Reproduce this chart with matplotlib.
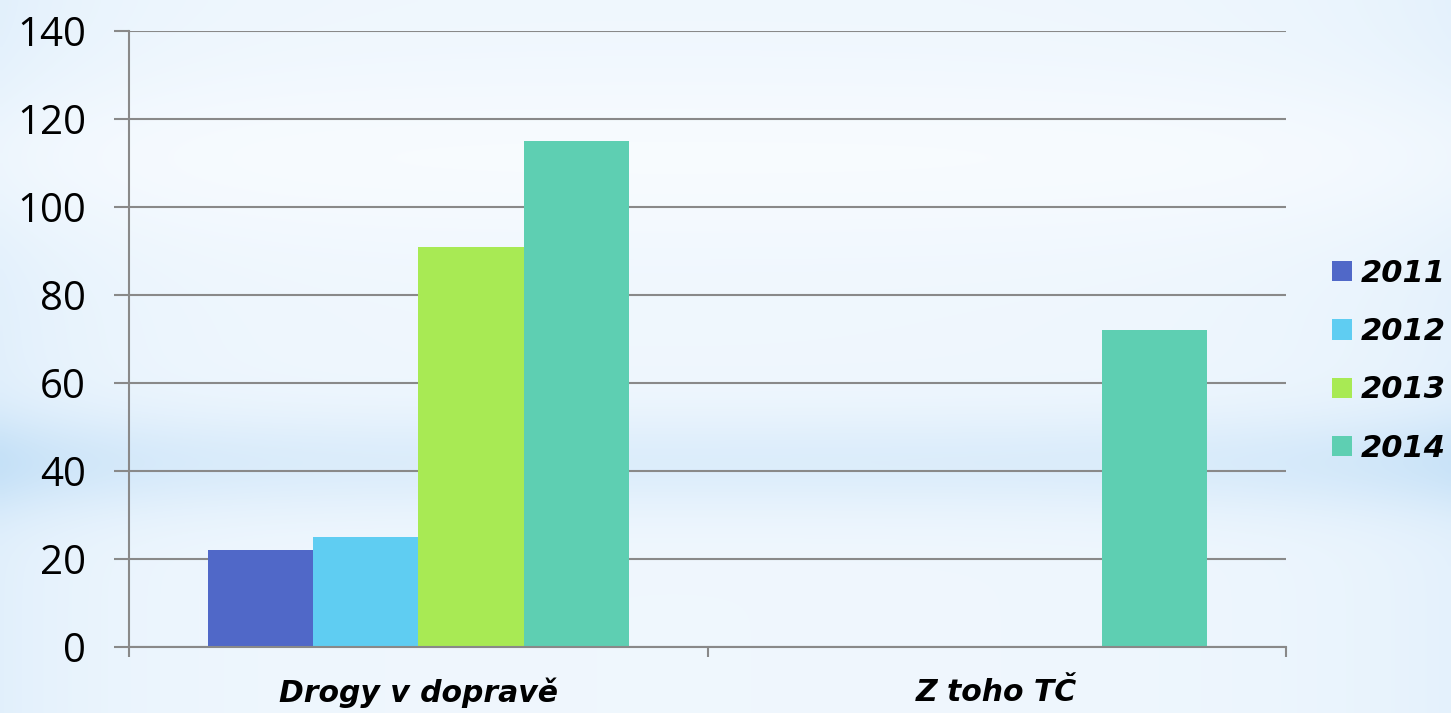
import matplotlib
matplotlib.use('Agg')
import matplotlib.pyplot as plt
import numpy as np

# data
categories = ['Drogy v dopravě', 'Z toho TČ']
years = ['2011', '2012', '2013', '2014']
values = {
    '2011': [22, 0],
    '2012': [25, 0],
    '2013': [91, 0],
    '2014': [115, 72],
}
colors = ['#5068c8', '#5fcdf2', '#a8ea54', '#5ecfb2']

fig = plt.figure(figsize=(14.51, 7.13), dpi=100)

# background gradient
bg = fig.add_axes([0, 0, 1, 1])
h, w = 200, 300
yy = np.linspace(0, 1, h)[:, None]
xx = np.linspace(0, 1, w)[None, :]
# 0 = white, 1 = light blue
band = 0.25 + 0.6 * np.exp(-((yy - 0.65) / 0.07) ** 2) - 0.25 * np.exp(-((yy - 0.22) / 0.12) ** 2)
edge = 0.55 * np.exp(-xx / 0.08) + 0.45 * np.exp(-(1 - xx) / 0.1)
t = np.clip(band * (0.45 + 0.55 * np.clip(edge + 0.3, 0, 1)) + 0.35 * edge, 0, 1)
white = np.array([0.97, 0.985, 1.0])
blue = np.array([0.77, 0.88, 0.97])
img = white[None, None, :] * (1 - t[..., None]) + blue[None, None, :] * t[..., None]
bg.imshow(img, aspect='auto', extent=[0, 1, 0, 1], interpolation='bilinear')
bg.axis('off')

ax = fig.add_axes([0.0889, 0.0926, 0.7974, 0.8639])
ax.patch.set_alpha(0)

x = np.arange(len(categories))
bw = 0.182
for i, yr in enumerate(years):
    ax.bar(x + (i - 1.5) * bw, values[yr], bw, color=colors[i], label=yr, zorder=3)

ax.set_xlim(-0.5, 1.5)
ax.set_ylim(0, 140)
ax.set_yticks(range(0, 141, 20))
ax.set_xticks([-0.5, 0.5, 1.5])
ax.set_xticklabels([])
ax.set_xticks(x, minor=True)
ax.set_xticklabels(categories, minor=True, fontsize=21.5, fontweight='semibold',
                   fontstyle='italic', family='DejaVu Sans')
ax.tick_params(axis='x', which='minor', length=0, pad=22)
ax.tick_params(axis='x', which='major', direction='out', length=7, color='#898989', width=1.5)
ax.tick_params(axis='y', direction='out', length=11, color='#898989', width=1.5, pad=20,
               labelsize=29)
for lab in ax.get_yticklabels():
    lab.set_family('Open Sans')

ax.grid(axis='y', color='#898989', linewidth=1.5, zorder=1)
for s in ['top', 'right']:
    ax.spines[s].set_visible(False)
for s in ['left', 'bottom']:
    ax.spines[s].set_color('#898989')
    ax.spines[s].set_linewidth(1.5)
ax.spines['bottom'].set_zorder(4)

leg = ax.legend(loc='center left', bbox_to_anchor=(0.918, 0.494), bbox_transform=fig.transFigure,
                frameon=False, handlelength=0.65, handleheight=0.65, handletextpad=0.3,
                labelspacing=0.96, borderaxespad=0, borderpad=0,
                prop={'size': 22, 'weight': 'bold', 'style': 'italic', 'family': 'DejaVu Sans'})

fig.savefig('out.png', dpi=100)
